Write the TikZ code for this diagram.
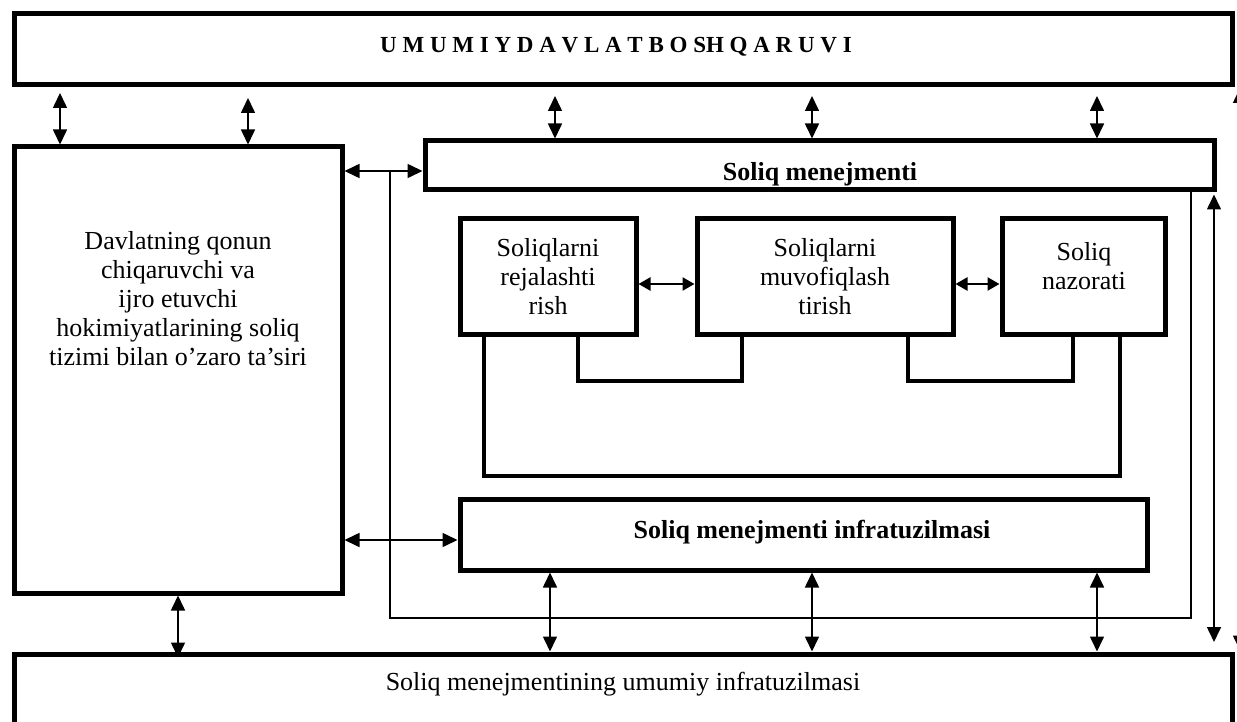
\documentclass[tikz,border=0pt]{standalone}
\usepackage{fontspec}
\setmainfont{Liberation Serif}
\usetikzlibrary{arrows.meta}
\begin{document}
\begin{tikzpicture}[x=1pt,y=-1pt,
  box/.style={draw,line width=5pt,outer sep=2.5pt,inner sep=0pt,anchor=north west},
  txt/.style={font=\fontsize{26}{29}\selectfont,align=center,inner sep=0pt},
  btxt/.style={font=\bfseries\fontsize{26}{29}\selectfont,inner sep=0pt},
  conn/.style={line width=4pt,line join=miter},
  arr/.style={line width=1.6pt,{Triangle[length=15pt,width=14pt]}-{Triangle[length=15pt,width=14pt]}},
  sarr/.style={line width=2.5pt,{Triangle[length=12pt,width=13pt]}-{Triangle[length=12pt,width=13pt]}},
  framel/.style={line width=1.3pt}
]
\useasboundingbox (0,0) rectangle (1237,722);

% boxes
\node[box,minimum width=1218pt,minimum height=70.5pt] (top) at (11.5,11.5) {};
\node[font=\bfseries\fontsize{23}{27}\selectfont,inner sep=0pt] (title) at (616,47) {U M U M I Y D A V L A T B O SH Q A R U V I};

\node[box,minimum width=328pt,minimum height=446pt] (left) at (11.5,144.5) {};
\node[txt] (lefttext) at (178,299) {Davlatning qonun\\chiqaruvchi va\\ijro etuvchi\\hokimiyatlarining soliq\\tizimi bilan o’zaro ta’siri};

\node[box,minimum width=789pt,minimum height=49pt] (men) at (422.5,138.5) {};
\node[btxt,anchor=base] (mentext) at (820,181) {Soliq menejmenti};

\node[box,txt,minimum width=176pt,minimum height=115.5pt] (A) at (457.5,216.5) {Soliqlarni\\rejalashti\\rish};
\node[box,txt,minimum width=256pt,minimum height=115.5pt] (B) at (694.5,216.5) {Soliqlarni\\muvofiqlash\\tirish};
\node[box,minimum width=163pt,minimum height=115.5pt] (C) at (999.5,216.5) {};
\node[txt] (ctext) at (1084,266) {Soliq\\nazorati};

\node[box,minimum width=687pt,minimum height=71pt] (infra) at (457.5,496.5) {};
\node[btxt,anchor=base] (infratext) at (812,538) {Soliq menejmenti infratuzilmasi};

\node[box,minimum width=1218pt,minimum height=76pt] (bot) at (11.5,651.5) {};
\node[txt,anchor=base] (bottext) at (623,690) {Soliq menejmentining umumiy infratuzilmasi};

% helper coordinates
\coordinate (xa) at (60,0);
\coordinate (xb) at (248,0);
\coordinate (xc) at (555,0);
\coordinate (xd) at (812,0);
\coordinate (xe) at (1097,0);
\coordinate (xf) at (178,0);
\coordinate (xg) at (550,0);
\coordinate (xr) at (1214,0);
\coordinate (xz) at (1240,0);
\coordinate (ya) at (0,171);
\coordinate (yb) at (0,540);
\coordinate (yc) at (0,284);

% vertical arrows
\draw[arr,shorten <=6pt] (top.south -| xa) -- (left.north -| xa);
\draw[arr,shorten <=11pt] (top.south -| xb) -- (left.north -| xb);
\draw[arr,shorten <=9pt] (top.south -| xc) -- (men.north -| xc);
\draw[arr,shorten <=9pt] (top.south -| xd) -- (men.north -| xd);
\draw[arr,shorten <=9pt] (top.south -| xe) -- (men.north -| xe);
\draw[arr,shorten >=-6pt] (left.south -| xf) -- (bot.north -| xf);
\draw[arr] (infra.south -| xg) -- (bot.north -| xg);
\draw[arr] (infra.south -| xd) -- (bot.north -| xd);
\draw[arr] (infra.south -| xe) -- (bot.north -| xe);
\draw[arr,shorten <=2pt,shorten >=9.5pt] (men.south -| xr) -- (bot.north -| xr);
\draw[arr,shorten <=1pt,shorten >=1pt] (top.south -| xz) -- (bot.north -| xz);

% horizontal arrows
\draw[arr] (left.east |- ya) -- (men.west |- ya);
\draw[arr] (left.east |- yb) -- (infra.west |- yb);
\draw[sarr] (A.east |- yc) -- (B.west |- yc);
\draw[sarr] (B.east |- yc) -- (C.west |- yc);

% thin frame
\coordinate (f1) at (390,171);
\coordinate (f2) at (390,618);
\coordinate (f3) at (1191,618);
\draw[framel] (f1) -- (f2) -- (f3) -- (men.south -| f3);

% inner connectors
\coordinate (c1) at (484,476);
\coordinate (c2) at (1120,476);
\coordinate (c3) at (578,381);
\coordinate (c4) at (742,381);
\coordinate (c5) at (908,381);
\coordinate (c6) at (1073,381);
\draw[conn] (A.south -| c1) -- (c1) -- (c2) -- (C.south -| c2);
\draw[conn] (A.south -| c3) -- (c3) -- (c4) -- (B.south -| c4);
\draw[conn] (B.south -| c5) -- (c5) -- (c6) -- (C.south -| c6);
\end{tikzpicture}
\end{document}
